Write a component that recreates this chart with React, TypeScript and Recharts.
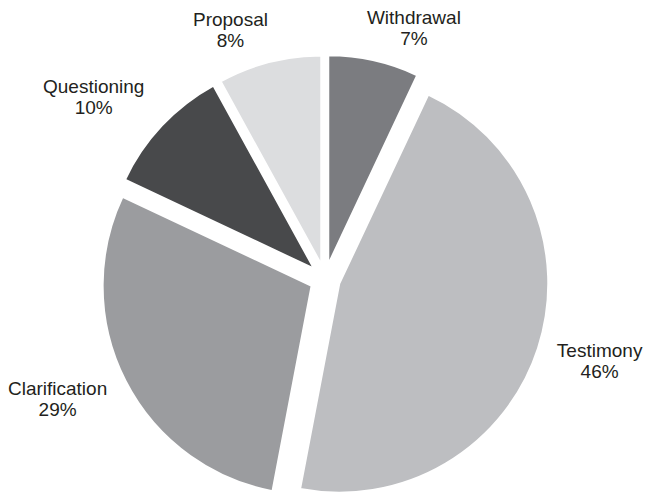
import { Cell, Pie, PieChart, Sector } from 'recharts'

// 数据：从 12 点方向顺时针
const CATEGORIES = ['Withdrawal', 'Testimony', 'Clarification', 'Questioning', 'Proposal']
const SHARES = [7, 46, 29, 10, 8]
const COLORS = ['#7b7c80', '#bdbec1', '#9b9c9f', '#48494b', '#dcdddf']

const WIDTH = 648
const HEIGHT = 495
const CX = 325
const CY = 279
const RADIUS = 209
const EXPLODE = 15
const FONT = '"Liberation Sans", Arial, sans-serif'
const FONT_SIZE = 19
const LINE_H = 21
const INK = '#231f20'
const RAD = Math.PI / 180

// 标签的手动微调（原图中顶部两个标签被拉开）
const LABEL_NUDGE: Record<string, [number, number]> = {
  Proposal: [-24, 6],
  Withdrawal: [25, 6],
  Questioning: [-15, -2],
  Clarification: [-4, 0],
}

const rows = CATEGORIES.map((name, i) => ({ name, value: SHARES[i] }))

let ctx: CanvasRenderingContext2D | null = null
function textWidth(s: string) {
  if (!ctx) ctx = document.createElement('canvas').getContext('2d')
  if (!ctx) return s.length * FONT_SIZE * 0.55
  ctx.font = `${FONT_SIZE}px ${FONT}`
  return ctx.measureText(s).width
}

function ExplodedSector(props: any) {
  const { cx, cy, innerRadius, outerRadius, startAngle, endAngle, midAngle, fill, stroke, strokeWidth } = props
  const dx = EXPLODE * Math.cos(-midAngle * RAD)
  const dy = EXPLODE * Math.sin(-midAngle * RAD)
  return (
    <Sector
      cx={cx + dx}
      cy={cy + dy}
      innerRadius={innerRadius}
      outerRadius={outerRadius}
      startAngle={startAngle}
      endAngle={endAngle}
      fill={fill}
      stroke={stroke}
      strokeWidth={strokeWidth}
    />
  )
}

function SliceLabel(props: any) {
  const { cx, cy, midAngle, outerRadius, name, percent } = props
  const ux = Math.cos(-midAngle * RAD)
  const uy = Math.sin(-midAngle * RAD)
  const pct = `${Math.round(percent * 100)}%`
  const w = Math.max(textWidth(name), textWidth(pct))
  const h = FONT_SIZE * 0.72 + LINE_H
  const r0 = outerRadius + EXPLODE + 22
  const [nx, ny] = LABEL_NUDGE[name] ?? [0, 0]
  const x = cx + ux * (r0 + w / 2) + nx
  const yc = cy + uy * (r0 + h / 2) + ny
  const base = yc - h / 2 + FONT_SIZE * 0.72
  return (
    <text x={x} y={base} textAnchor="middle" fill={INK} fontFamily={FONT} fontSize={FONT_SIZE}>
      <tspan x={x} y={base}>{name}</tspan>
      <tspan x={x} y={base + LINE_H}>{pct}</tspan>
    </text>
  )
}

export default function App() {
  return (
    <div style={{ position: 'absolute', left: 0, top: 0, width: WIDTH, height: HEIGHT, background: '#fff' }}>
      <PieChart width={WIDTH} height={HEIGHT} margin={{ top: 0, right: 0, bottom: 0, left: 0 }}>
        <Pie
          data={rows}
          dataKey="value"
          nameKey="name"
          cx={CX}
          cy={CY}
          outerRadius={RADIUS}
          startAngle={90}
          endAngle={-270}
          stroke="#ffffff"
          strokeWidth={2}
          shape={ExplodedSector}
          label={SliceLabel}
          labelLine={false}
          isAnimationActive={false}
        >
          {rows.map((r, i) => (
            <Cell key={r.name} fill={COLORS[i]} />
          ))}
        </Pie>
      </PieChart>
    </div>
  )
}
